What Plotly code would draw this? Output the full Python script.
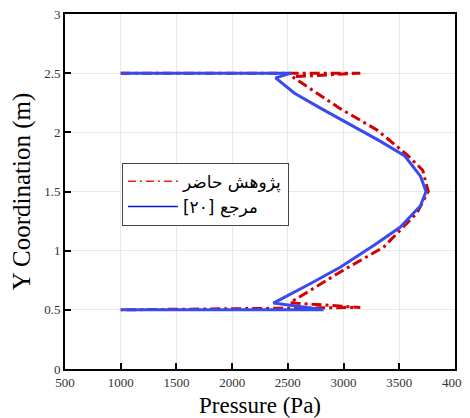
import plotly.graph_objects as go

# Present study (red dash-dot)
red_x = [1000, 3150, 2540, 2700, 2970, 3300, 3570, 3710, 3760, 3660, 3360, 2970, 2700, 2520, 3150, 1000]
red_y = [2.50, 2.50, 2.47, 2.37, 2.20, 2.02, 1.81, 1.68, 1.50, 1.32, 1.03, 0.82, 0.66, 0.56, 0.52, 0.50]

# Reference [20] (blue solid)
blue_x = [1000, 2530, 2390, 2560, 2800, 3050, 3320, 3550, 3690, 3740, 3690, 3510, 3280, 2970, 2700, 2370, 2820, 1000]
blue_y = [2.50, 2.50, 2.46, 2.33, 2.20, 2.07, 1.93, 1.80, 1.63, 1.50, 1.38, 1.20, 1.05, 0.86, 0.72, 0.557, 0.50, 0.50]

name_red = "پژوهش حاضر"
name_blue = "مرجع [۲۰]\u200f"

x_ticks = [500, 1000, 1500, 2000, 2500, 3000, 3500, 4000]
y_ticks = [0, 0.5, 1, 1.5, 2, 2.5, 3]
y_tick_text = ["0", "0.5", "1", "1.5", "2", "2.5", "3"]

RED = "rgb(212,0,0)"
BLUE = "rgb(55,75,240)"

fig = go.Figure()
fig.add_trace(go.Scatter(x=red_x, y=red_y, mode="lines", name=name_red, showlegend=False,
                         line=dict(color=RED, width=3, dash="10px,4px,3px,4px")))
fig.add_trace(go.Scatter(x=blue_x, y=blue_y, mode="lines", name=name_blue, showlegend=False,
                         line=dict(color=BLUE, width=3)))
# legend entries (thin lines as in the reference legend)
fig.add_trace(go.Scatter(x=[None], y=[None], mode="lines", name=name_red,
                         line=dict(color="rgb(230,30,30)", width=1.5, dash="8px,4px,2px,4px")))
fig.add_trace(go.Scatter(x=[None], y=[None], mode="lines", name=name_blue,
                         line=dict(color="rgb(20,20,200)", width=1.5)))

axis_common = dict(showline=True, linecolor="black", linewidth=2, mirror=True,
                   ticks="inside", ticklen=6, tickcolor="black", tickwidth=1.5,
                   showgrid=True, gridcolor="rgb(232,232,232)", gridwidth=1,
                   zeroline=False, automargin=False, ticklabeloverflow="allow",
                   tickfont=dict(family="Liberation Serif", size=13, color="#333"))

# page body has an 8px margin, so the figure is sized to fit the 470x418 window
fig.update_layout(
    width=462, height=410,
    margin=dict(l=57, r=15, t=6, b=49),
    paper_bgcolor="white", plot_bgcolor="white",
    xaxis=dict(range=[500, 4000], tickvals=x_ticks,
               title=dict(text="Pressure (Pa)", font=dict(family="Liberation Serif", size=23, color="black")),
               **axis_common),
    yaxis=dict(range=[0, 3], tickvals=y_ticks, ticktext=y_tick_text,
               title=dict(text="Y Coordination (m)", font=dict(family="Liberation Serif", size=25, color="black")),
               **axis_common),
    legend=dict(x=0.146, y=0.581, xanchor="left", yanchor="top",
                bgcolor="white", bordercolor="#444", borderwidth=1,
                font=dict(family="DejaVu Sans", size=17, color="black"),
                itemwidth=50, tracegroupgap=2),
    showlegend=True,
)

fig.write_html("out.html")
